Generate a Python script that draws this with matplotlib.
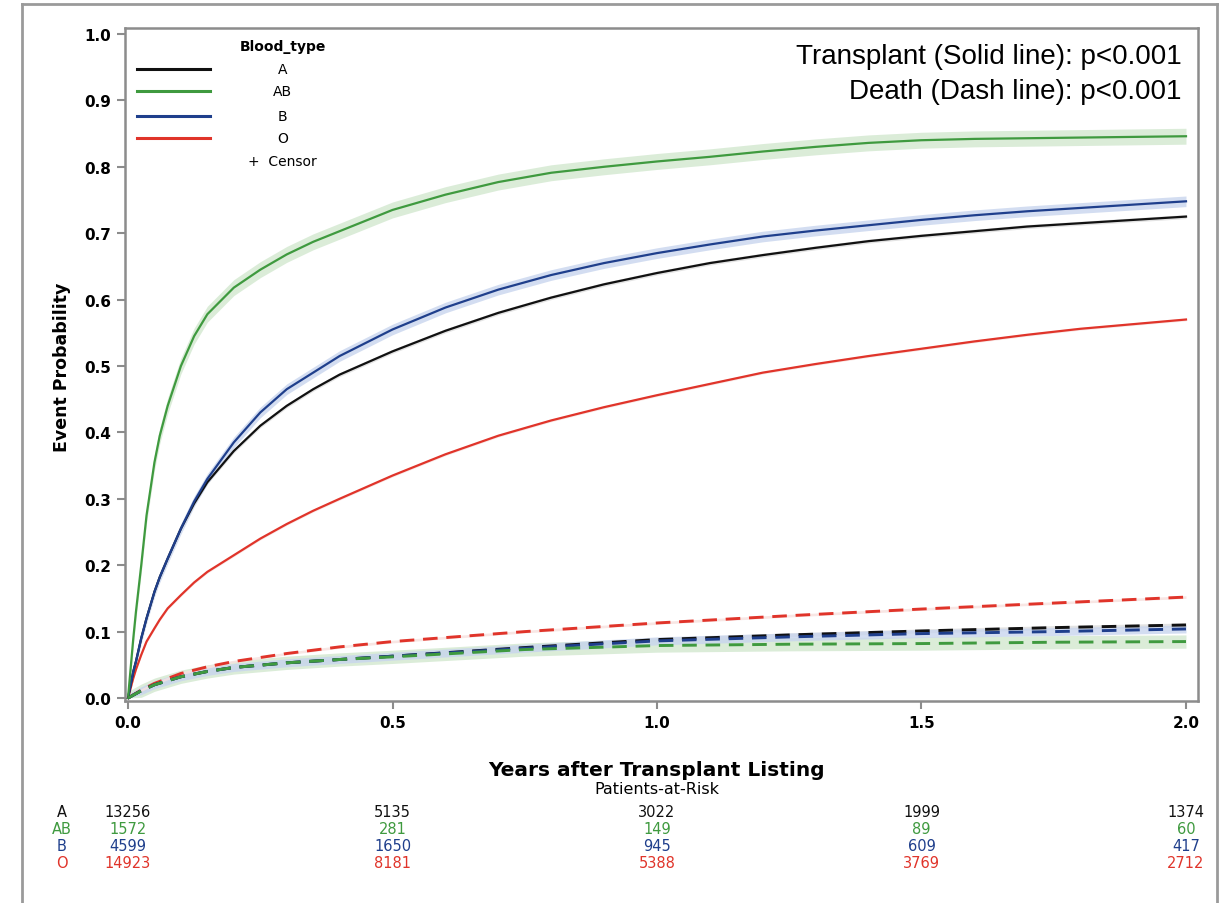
import matplotlib
matplotlib.use("Agg")
import matplotlib.pyplot as plt
import matplotlib.transforms as mtransforms
from matplotlib.lines import Line2D

# ---------------- data ----------------
groups = ["A", "AB", "B", "O"]
colors = {"A": "#111111", "AB": "#3f9a3f", "B": "#1f3f8c", "O": "#e0342a"}
band_colors = {"A": "#dcdcdc", "AB": "#d2e8cf", "B": "#c8d5ee", "O": "#f7e0de"}

t_transplant = [0, 0.005, 0.01, 0.015, 0.025, 0.035, 0.05, 0.06, 0.075, 0.1, 0.125, 0.15,
                0.2, 0.25, 0.3, 0.35, 0.4, 0.5, 0.6, 0.7, 0.8, 0.9, 1.0, 1.1, 1.2, 1.3,
                1.4, 1.5, 1.6, 1.7, 1.8, 1.9, 2.0]
transplant_A = [0, 0.02, 0.04, 0.055, 0.09, 0.12, 0.16, 0.182, 0.21, 0.255, 0.293, 0.325,
                0.372, 0.41, 0.44, 0.465, 0.487, 0.522, 0.553, 0.58, 0.603, 0.623, 0.64,
                0.655, 0.667, 0.678, 0.688, 0.696, 0.703, 0.71, 0.715, 0.72, 0.725]
transplant_AB = [0, 0.045, 0.09, 0.13, 0.2, 0.275, 0.355, 0.395, 0.44, 0.5, 0.545, 0.578,
                 0.618, 0.645, 0.668, 0.687, 0.703, 0.735, 0.758, 0.777, 0.791, 0.8, 0.808,
                 0.815, 0.823, 0.83, 0.836, 0.84, 0.842, 0.843, 0.844, 0.845, 0.846]
transplant_B = [0, 0.02, 0.04, 0.055, 0.09, 0.12, 0.16, 0.182, 0.21, 0.255, 0.296, 0.33,
                0.385, 0.43, 0.465, 0.49, 0.515, 0.555, 0.588, 0.615, 0.637, 0.655, 0.67,
                0.683, 0.695, 0.704, 0.712, 0.72, 0.727, 0.733, 0.738, 0.743, 0.748]
transplant_O = [0, 0.015, 0.03, 0.043, 0.065, 0.085, 0.105, 0.118, 0.135, 0.155, 0.174, 0.19,
                0.215, 0.24, 0.262, 0.282, 0.3, 0.335, 0.367, 0.395, 0.418, 0.438, 0.456,
                0.473, 0.49, 0.503, 0.515, 0.526, 0.537, 0.547, 0.556, 0.563, 0.57]

t_death = [0, 0.025, 0.05, 0.1, 0.15, 0.2, 0.3, 0.4, 0.5, 0.75, 1.0, 1.25, 1.5, 1.75, 2.0]
death_A = [0, 0.011, 0.02, 0.032, 0.04, 0.046, 0.053, 0.058, 0.063, 0.076, 0.088, 0.095, 0.101, 0.106, 0.11]
death_AB = [0, 0.011, 0.02, 0.032, 0.04, 0.046, 0.053, 0.058, 0.062, 0.073, 0.079, 0.081, 0.082, 0.084, 0.085]
death_B = [0, 0.011, 0.02, 0.032, 0.04, 0.046, 0.053, 0.058, 0.063, 0.075, 0.086, 0.092, 0.097, 0.1, 0.104]
death_O = [0, 0.012, 0.022, 0.037, 0.047, 0.055, 0.067, 0.077, 0.085, 0.1, 0.113, 0.124, 0.134, 0.143, 0.152]

band_transplant = {"A": 0.003, "AB": 0.012, "B": 0.008, "O": 0.002}
band_death = {"A": 0.003, "AB": 0.01, "B": 0.006, "O": 0.002}

risk_times = [0.0, 0.5, 1.0, 1.5, 2.0]
risk_A = [13256, 5135, 3022, 1999, 1374]
risk_AB = [1572, 281, 149, 89, 60]
risk_B = [4599, 1650, 945, 609, 417]
risk_O = [14923, 8181, 5388, 3769, 2712]

x_ticks = [0.0, 0.5, 1.0, 1.5, 2.0]
y_ticks = [0.0, 0.1, 0.2, 0.3, 0.4, 0.5, 0.6, 0.7, 0.8, 0.9, 1.0]

transplant = {"A": transplant_A, "AB": transplant_AB, "B": transplant_B, "O": transplant_O}
death = {"A": death_A, "AB": death_AB, "B": death_B, "O": death_O}
risk = {"A": risk_A, "AB": risk_AB, "B": risk_B, "O": risk_O}

# ---------------- figure ----------------
W, H = 1219, 904
fig = plt.figure(figsize=(W / 100, H / 100), dpi=100)
fig.patch.set_facecolor("white")

def fx(px):
    return px / W

def fy(py):
    return 1 - py / H

# outer frame
for xs, ys in [([22, 22], [5, 904]), ([22, 1217], [5, 5]), ([1217, 1217], [5, 904])]:
    fig.add_artist(Line2D([fx(v) for v in xs], [fy(v) for v in ys], color="#9a9a9a",
                          lw=2, transform=fig.transFigure))

ax = fig.add_axes([fx(125), fy(702), fx(1198) - fx(125), fy(29) - fy(702)])
ax.set_xlim(-0.0057, 2.0227)
ax.set_ylim(-0.0045, 1.009)

for g in groups:
    lo = [v - band_transplant[g] for v in transplant[g]]
    hi = [v + band_transplant[g] for v in transplant[g]]
    ax.fill_between(t_transplant, lo, hi, color=band_colors[g], lw=0, alpha=0.8, zorder=1)
    lo = [max(v - band_death[g], 0) for v in death[g]]
    hi = [v + band_death[g] for v in death[g]]
    ax.fill_between(t_death, lo, hi, color=band_colors[g], lw=0, alpha=0.8, zorder=1)

for g in ["O", "A", "B", "AB"]:
    ax.plot(t_transplant, transplant[g], color=colors[g], lw=1.6, zorder=3)
for g in ["O", "A", "B", "AB"]:
    ax.plot(t_death, death[g], color=colors[g], lw=2.1, ls=(0, (5, 3)), zorder=3)

for s in ax.spines.values():
    s.set_color("#8c8c8c")
    s.set_linewidth(1.8)

ax.set_xticks(x_ticks)
ax.set_xticklabels([f"{v:.1f}" for v in x_ticks])
ax.set_yticks(y_ticks)
ax.set_yticklabels([f"{v:.1f}" for v in y_ticks])
ax.tick_params(direction="out", length=6, width=1.5, color="#8c8c8c",
               labelsize=11, pad=4)
for lab in ax.get_xticklabels() + ax.get_yticklabels():
    lab.set_fontweight("bold")

# axis labels
fig.text(fx(62), fy(367), "Event Probability", rotation=90, ha="center", va="center",
         fontsize=12.5, fontweight="bold")
fig.text(fx(657), fy(770), "Years after Transplant Listing", ha="center", va="center",
         fontsize=14.5, fontweight="bold")
fig.text(fx(657), fy(790), "Patients-at-Risk", ha="center", va="center", fontsize=11.5)

# legend (manual, SAS style)
leg_y = [0.939, 0.906, 0.869, 0.836]
ax.text(0.147, 0.973, "Blood_type", transform=ax.transAxes, ha="center", va="center",
        fontsize=10, fontweight="bold")
for g, yy in zip(groups, leg_y):
    ax.add_line(Line2D([0.0112, 0.079], [yy, yy], color=colors[g], lw=2.2,
                       transform=ax.transAxes))
    ax.text(0.147, yy, g, transform=ax.transAxes, ha="center", va="center", fontsize=10)
ax.text(0.147, 0.802, "+  Censor", transform=ax.transAxes, ha="center", va="center", fontsize=10)

# p-value annotation
ax.text(0.985, 0.958, "Transplant (Solid line): p<0.001", transform=ax.transAxes,
        ha="right", va="center", fontsize=20, family="Liberation Sans")
ax.text(0.985, 0.906, "Death (Dash line): p<0.001", transform=ax.transAxes,
        ha="right", va="center", fontsize=20, family="Liberation Sans")

# at-risk table
blend = mtransforms.blended_transform_factory(ax.transData, fig.transFigure)
row_y = [813, 830, 847, 864]
for g, py in zip(groups, row_y):
    fig.text(fx(62), fy(py), g, ha="center", va="center", fontsize=10.5, color=colors[g])
    for t, n in zip(risk_times, risk[g]):
        ax.text(t, fy(py), str(n), transform=blend, ha="center", va="center",
                fontsize=10.5, color=colors[g], clip_on=False)

fig.savefig("out.png", dpi=100, facecolor="white")
